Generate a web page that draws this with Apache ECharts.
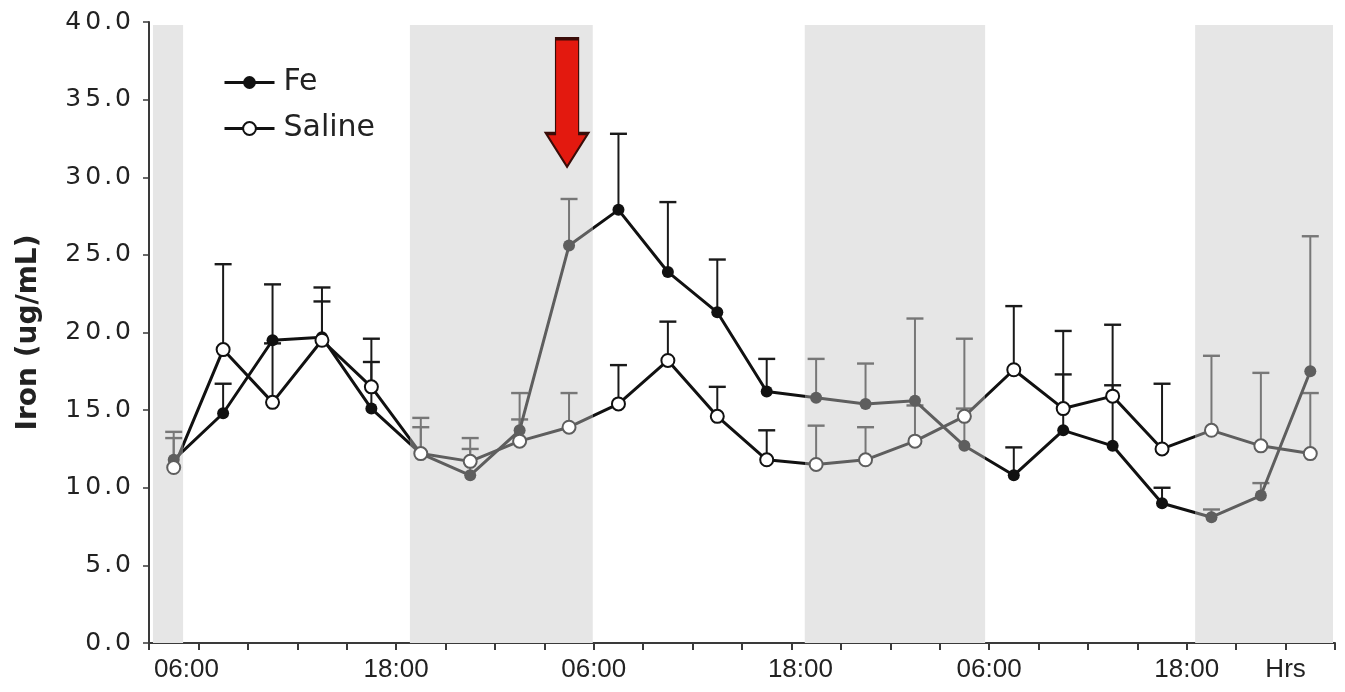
<!DOCTYPE html>
<html>
<head>
<meta charset="utf-8">
<script src="https://cdn.jsdelivr.net/npm/echarts@6/dist/echarts.min.js"></script>
<style>html,body{margin:0;padding:0;background:#fff}#c{width:1345px;height:692px}</style>
</head>
<body>
<div id="c"></div>
<script>
// ---- data ----
const xTickLabels = ['', '06:00', '', '', '', '18:00', '', '', '', '06:00', '', '', '', '18:00', '', '', '', '06:00', '', '', '', '18:00', '', 'Hrs', ''];
const feMean   = [11.8, 14.8, 19.5, 19.7, 15.1, 12.2, 10.8, 13.7, 25.6, 27.9, 23.9, 21.3, 16.2, 15.8, 15.4, 15.6, 12.7, 10.8, 13.7, 12.7, 9.0, 8.1, 9.5, 17.5];
const feSD     = [1.4, 1.9, 3.6, 3.2, 3.0, 2.3, 1.7, 2.4, 3.0, 4.9, 4.5, 3.4, 2.1, 2.5, 2.6, 5.3, 2.4, 1.8, 3.6, 3.9, 1.0, 0.5, 0.8, 8.7];
const salMean  = [11.3, 18.9, 15.5, 19.5, 16.5, 12.2, 11.7, 13.0, 13.9, 15.4, 18.2, 14.6, 11.8, 11.5, 11.8, 13.0, 14.6, 17.6, 15.1, 15.9, 12.5, 13.7, 12.7, 12.2];
const salSD    = [2.3, 5.5, 3.8, 2.5, 3.1, 1.7, 1.5, 1.4, 2.2, 2.5, 2.5, 1.9, 1.9, 2.5, 2.1, 2.3, 5.0, 4.1, 5.0, 4.6, 4.2, 4.8, 4.7, 3.9];
const darkPhases = [[0.08, 0.69], [5.28, 8.98], [13.27, 16.92], [21.17, 23.96]];
const arrowPoint = [8.46, 34.8];

// ---- build ----
const xs = feMean.map((_, i) => i + 0.5);
const feData = feMean.map((v, i) => [xs[i], v]);
const salData = salMean.map((v, i) => [xs[i], v]);
const feErr = feMean.map((v, i) => [xs[i], v, feSD[i]]);
const salErr = salMean.map((v, i) => [xs[i], v, salSD[i]]);

function inShade(x) { return darkPhases.some(r => x >= r[0] && x <= r[1]); }

function errRender(params, api) {
  const x = api.value(0), m = api.value(1), sd = api.value(2);
  const p0 = api.coord([x, m]);
  const p1 = api.coord([x, m + sd]);
  const col = inShade(x) ? '#777' : '#1a1a1a';
  const hw = 8.5;
  return {
    type: 'group',
    children: [
      { type: 'line', shape: { x1: p0[0], y1: p0[1], x2: p1[0], y2: p1[1] }, style: { stroke: col, lineWidth: 2 } },
      { type: 'line', shape: { x1: p1[0] - hw, y1: p1[1], x2: p1[0] + hw, y2: p1[1] }, style: { stroke: col, lineWidth: 2.4 } }
    ]
  };
}

const chart = echarts.init(document.getElementById('c'), null, { renderer: 'canvas' });

const yFont = 'DejaVu Sans';
const option = {
  animation: false,
  backgroundColor: '#fff',
  color: ['#111', '#111', '#111', '#111'],
  grid: { left: 149, right: 10, top: 22, bottom: 49, outerBoundsMode: 'none' },
  legend: {
    orient: 'vertical', left: 218, top: 62,
    itemWidth: 50, itemHeight: 16, itemGap: 15,
    data: ['Fe', 'Saline'],
    lineStyle: { width: 3 },
    textStyle: { fontFamily: yFont, fontSize: 30, color: '#222', lineHeight: 31, padding: [0, 0, 0, 4] }
  },
  xAxis: {
    type: 'value', min: 0, max: 24, interval: 1,
    splitLine: { show: false },
    axisLine: { show: true, onZero: true, lineStyle: { color: '#3a3a3a', width: 2 } },
    axisTick: { show: true, length: 7, lineStyle: { color: '#3a3a3a', width: 2 } },
    axisLabel: {
      margin: 14, fontFamily: 'Liberation Sans', fontSize: 26, color: '#222',
      showMinLabel: true, showMaxLabel: true,
      formatter: function (v) {
        const i = Math.round(v);
        const t = xTickLabels[i] || '';
        if (!t) return '';
        if (i === 1) return '{a|' + t + '}';
        if (i === 13) return '{b|' + t + '}';
        return t;
      },
      rich: {
        a: { fontFamily: 'Liberation Sans', fontSize: 26, color: '#222', padding: [0, 24, 0, 0] },
        b: { fontFamily: 'Liberation Sans', fontSize: 26, color: '#222', padding: [0, 0, 0, 18] }
      }
    }
  },
  yAxis: {
    type: 'value', min: 0, max: 40, interval: 5,
    name: 'Iron (ug/mL)', nameLocation: 'middle', nameGap: 106, nameRotate: 90,
    nameTextStyle: { fontFamily: yFont, fontWeight: 'bold', fontSize: 28, color: '#222' },
    splitLine: { show: false },
    axisLine: { show: true, lineStyle: { color: '#3a3a3a', width: 2 } },
    axisTick: { show: true, length: 6, lineStyle: { color: '#3a3a3a', width: 1.5 } },
    axisLabel: {
      margin: 16, fontFamily: yFont, fontSize: 25, color: '#222',
      formatter: function (v) {
        return v.toFixed(1).split('').map(ch => ch === '.' ? '{p|.}' : '{d|' + ch + '}').join('');
      },
      rich: {
        d: { fontFamily: yFont, fontSize: 25, color: '#222', padding: [0, 2, 0, 2] },
        p: { fontFamily: yFont, fontSize: 25, color: '#222', padding: [0, 1, 0, 1] }
      }
    }
  },
  visualMap: {
    type: 'piecewise', show: false, dimension: 0, seriesIndex: [1, 2],
    pieces: darkPhases.map(r => ({ gte: r[0], lte: r[1], color: '#5e5e5e' })),
    outOfRange: { color: '#111' }
  },
  series: [
    {
      name: 'err', type: 'custom', renderItem: errRender, data: feErr.concat(salErr), z: 2, silent: true,
      markArea: {
        silent: true,
        itemStyle: { color: '#e6e6e6' },
        data: darkPhases.map(r => [{ xAxis: r[0], yAxis: 0 }, { xAxis: r[1], yAxis: 39.8 }])
      }
    },
    {
      name: 'Fe', type: 'line', data: feData, z: 4,
      symbol: 'circle', symbolSize: 12,
      lineStyle: { width: 3 }
    },
    {
      name: 'Saline', type: 'line', data: salData, z: 5,
      symbol: 'emptyCircle', symbolSize: 13,
      lineStyle: { width: 3 },
      itemStyle: { borderWidth: 2 }
    },
    {
      name: 'arrow', type: 'scatter', data: [arrowPoint], z: 10, silent: true,
      symbol: 'path://M9,0 L31,0 L31,74 L40,74 L20,100 L0,74 L9,74 Z',
      symbolSize: [42, 128], symbolKeepAspect: false,
      itemStyle: { color: '#e3190f', borderColor: '#3a0c08', borderWidth: 2, opacity: 1 }
    }
  ]
};
chart.setOption(option);
</script>
</body>
</html>
